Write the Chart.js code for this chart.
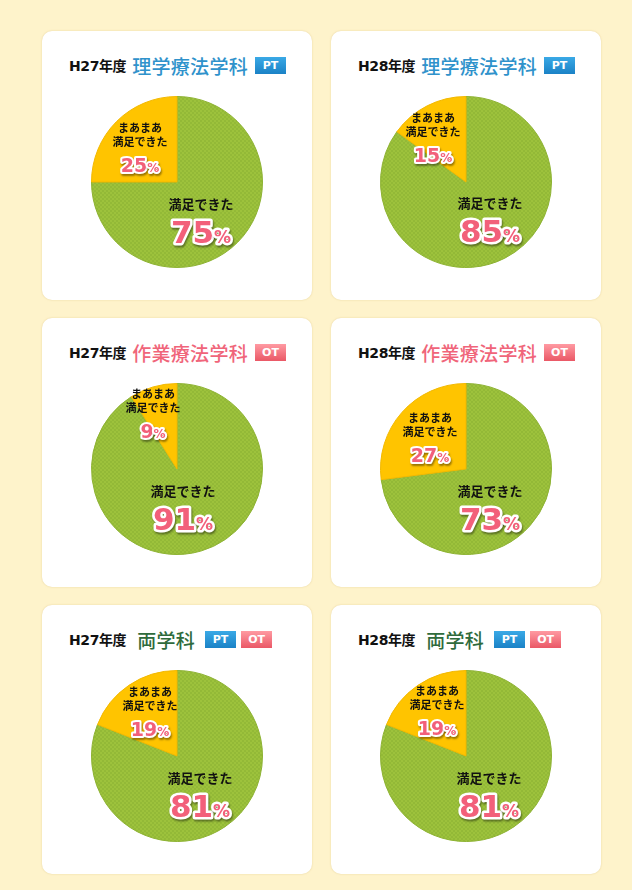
<!DOCTYPE html>
<html>
<head>
<meta charset="utf-8">
<script src="https://cdn.jsdelivr.net/npm/chart.js@4"></script>
<style>
html, body { margin: 0; padding: 0; }
body { width: 632px; height: 890px; background: #fef3cb; position: relative; overflow: hidden; font-family: "Noto Sans CJK JP", sans-serif; }
.card { position: absolute; width: 270px; height: 269px; background: #fff; border-radius: 10px; box-shadow: 0 0 2px rgba(214,190,120,0.6); }
.card canvas { position: absolute; left: 0; top: 51px; }
.ttl { position: absolute; left: 27px; top: 21px; height: 26px; display: flex; align-items: center; white-space: nowrap; }
.yr { font: bold 14px "DejaVu Sans", "Noto Sans CJK JP", sans-serif; color: #111; letter-spacing: -0.4px; }
.dp { font-size: 19px; font-weight: 500; margin-left: 6px; letter-spacing: 0.3px; }
.bd { display: inline-block; width: 31px; height: 17px; text-align: center; color: #fff; font: bold 11px "DejaVu Sans", sans-serif; line-height: 17px; margin-left: 7px; }
.pt { background: linear-gradient(#3aa9e6, #1b82c6); }
.ot { background: linear-gradient(#ff9aa2, #ea5866); }
</style>
</head>
<body>
<script>
// 各カードのデータ
const years = ['H27年度', 'H28年度', 'H27年度', 'H28年度', 'H27年度', 'H28年度'];
const depts = ['理学療法学科', '理学療法学科', '作業療法学科', '作業療法学科', '両学科', '両学科'];
const badges = [['PT'], ['PT'], ['OT'], ['OT'], ['PT', 'OT'], ['PT', 'OT']];
const categories = [['満足できた'], ['まあまあ', '満足できた']];
const satisfied = [75, 85, 91, 73, 81, 81];
const fairly = [25, 15, 9, 27, 19, 19];

// レイアウト（カード位置とラベル位置）
const cardX = [42, 331, 42, 331, 42, 331];
const cardY = [31, 31, 318, 318, 605, 605];
const deptColor = { '理学療法学科': '#2f92cb', '作業療法学科': '#f0657a', '両学科': '#2f6b3c' };
// [dx, dy] from pie centre: first text line of each slice
const labelPos = [
  [[24, 22], [-37, -54]],
  [[24, 21], [-33, -64]],
  [[6, 22], [-24, -75]],
  [[24, 22], [-36, -51]],
  [[23, 22], [-27, -64]],
  [[23, 22], [-29, -65]]
];

function greenPattern() {
  let c = document.createElement('canvas');
  c.width = 4; c.height = 4;
  let g = c.getContext('2d');
  g.fillStyle = '#9dc23c';
  g.fillRect(0, 0, 4, 4);
  g.fillStyle = '#93b937';
  g.fillRect(0, 0, 2, 2);
  g.fillRect(2, 2, 2, 2);
  return g.createPattern(c, 'repeat');
}

function drawPct(ctx, x, y, value, big) {
  let numFont = big ? 'bold 31px "DejaVu Sans"' : 'bold 19px "DejaVu Sans"';
  let pctFont = big ? 'bold 17px "DejaVu Sans"' : 'bold 12px "DejaVu Sans"';
  let num = String(value);
  ctx.font = numFont;
  let w1 = ctx.measureText(num).width;
  ctx.font = pctFont;
  let w2 = ctx.measureText('%').width;
  let x0 = x - (w1 + w2) / 2;
  let parts = [[num, numFont, x0], ['%', pctFont, x0 + w1]];
  ctx.textBaseline = 'alphabetic';
  ctx.textAlign = 'left';
  let base = y + (big ? 11 : 7);
  parts.forEach(function(p) {
    ctx.font = p[1];
    ctx.save();
    ctx.shadowColor = 'rgba(0,0,0,0.4)';
    ctx.shadowOffsetX = 1;
    ctx.shadowOffsetY = 2;
    ctx.shadowBlur = 2;
    ctx.lineJoin = 'round';
    ctx.lineWidth = big ? 5 : 4;
    ctx.strokeStyle = '#fff';
    ctx.strokeText(p[0], p[2], base);
    ctx.restore();
    ctx.fillStyle = '#f2607a';
    ctx.fillText(p[0], p[2], base);
  });
}

const labelPlugin = {
  id: 'sliceLabels',
  afterDatasetsDraw(chart) {
    let ctx = chart.ctx;
    let k = chart.options.cardIndex;
    let meta = chart.getDatasetMeta(0);
    let cx = meta.data[0].x, cy = meta.data[0].y;
    let vals = chart.data.datasets[0].data;
    ctx.save();
    vals.forEach(function(v, i) {
      let lines = categories[i];
      let ax = cx + labelPos[k][i][0];
      let ay = cy + labelPos[k][i][1];
      let big = i == 0;
      ctx.fillStyle = '#111';
      ctx.textAlign = 'center';
      ctx.textBaseline = 'middle';
      ctx.font = big ? 'bold 13px "Noto Sans CJK JP"' : 'bold 11px "Noto Sans CJK JP"';
      lines.forEach(function(t, j) {
        ctx.fillText(t, ax, ay + j * 14);
      });
      let py = ay + (lines.length - 1) * 14 + (big ? 28 : 23);
      drawPct(ctx, ax, py, v, big);
    });
    ctx.restore();
  }
};

const pattern = greenPattern();

for (let k = 0; k < years.length; k++) {
  let card = document.createElement('div');
  card.className = 'card';
  card.style.left = cardX[k] + 'px';
  card.style.top = cardY[k] + 'px';
  let ttl = '<div class="ttl"><span class="yr">' + years[k] + '</span>' +
    '<span class="dp" style="color:' + deptColor[depts[k]] + ';' + (depts[k] == '両学科' ? 'margin-left:11px;margin-right:5px;' : '') + '">' + depts[k] + '</span>';
  badges[k].forEach(function(b) {
    ttl += '<span class="bd ' + b.toLowerCase() + '"' + (badges[k].length > 1 ? ' style="margin-left:5px"' : '') + '>' + b + '</span>';
  });
  ttl += '</div>';
  card.innerHTML = ttl + '<canvas width="270" height="200"></canvas>';
  document.body.appendChild(card);

  new Chart(card.querySelector('canvas'), {
    type: 'pie',
    data: {
      labels: categories.map(function(c) { return c.join(''); }),
      datasets: [{
        data: [satisfied[k], fairly[k]],
        backgroundColor: [pattern, '#ffc400'],
        borderColor: ['#8db232', '#f2b800'],
        borderWidth: 1
      }]
    },
    options: {
      cardIndex: k,
      responsive: false,
      animation: false,
      layout: { padding: 14 },
      plugins: { legend: { display: false }, tooltip: { enabled: false } }
    },
    plugins: [labelPlugin]
  });
}
</script>
</body>
</html>
